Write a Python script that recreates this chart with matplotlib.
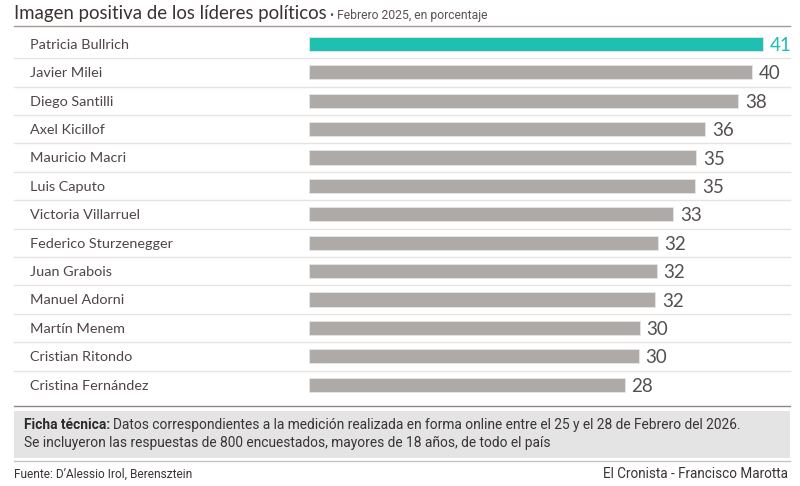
import matplotlib
matplotlib.use('Agg')
import matplotlib.pyplot as plt
from matplotlib.patches import Rectangle

names = ['Patricia Bullrich', 'Javier Milei', 'Diego Santilli', 'Axel Kicillof',
         'Mauricio Macri', 'Luis Caputo', 'Victoria Villarruel', 'Federico Sturzenegger',
         'Juan Grabois', 'Manuel Adorni', 'Martín Menem', 'Cristian Ritondo',
         'Cristina Fernández']
values = [41, 40, 38.8, 35.8, 35, 34.9, 32.9, 31.5, 31.4, 31.3, 29.9, 29.8, 28.5]
labels = ['41', '40', '38', '36', '35', '35', '33', '32', '32', '32', '30', '30', '28']

TEAL = '#1fbfb1'
GRAY = '#aeaaa7'
TXT = '#4f4545'
MAIN = ['Lato', 'DejaVu Sans']
NARROW = ['Roboto', 'DejaVu Sans']

W, H = 800, 486
fig = plt.figure(figsize=(8, 4.86), dpi=100)
fig.canvas.draw()
r = fig.canvas.get_renderer()


def fx(px):
    return px / W


def fy(py):
    return 1 - py / H


def fit(t, width):
    # shrink/grow a text so it spans the same width as in the reference
    w = t.get_window_extent(r).width
    t.set_fontsize(t.get_fontsize() * width / w)
    return t


# axes over the whole figure, row i sits at 44 + 28.4*i px from top
ax = fig.add_axes([0, 0, 1, 1])
scale = 11.06
x0 = 309.3
ax.set_xlim(-x0 / scale, (W - x0) / scale)
step = 28.4
ax.set_ylim((H - 44) / step, -44 / step)
ax.axis('off')

colors = [TEAL] + [GRAY] * (len(values) - 1)
ys = list(range(len(values)))
ax.barh(ys, values, height=0.5, color=colors, edgecolor='#e8e6e4', linewidth=0.6)

for i, (n, v, lab) in enumerate(zip(names, values, labels)):
    ax.text(fx(30), i + 0.03, n, transform=ax.get_yaxis_transform(), ha='left', va='center',
            fontsize=10.4, color=TXT, family=MAIN)
    ax.text(v + 0.6, i + 0.05, lab, ha='left', va='center', fontsize=13.5,
            color=TEAL if i == 0 else '#555050', family=MAIN)

# row separators
xa, xb = fx(14), fx(790)
for i in range(len(values) - 1):
    ax.plot([xa, xb], [i + 0.5, i + 0.5], transform=ax.get_yaxis_transform(),
            color='#e6e3e1', lw=1)

# title line and bottom lines
fig.add_artist(plt.Line2D([xa, xb], [fy(25.7), fy(25.7)], color='#a39a97', lw=1))
fig.add_artist(plt.Line2D([xa, xb], [fy(406), fy(406)], color='#8f8583', lw=1))
fig.add_artist(plt.Line2D([xa, xb], [fy(461), fy(461)], color='#c9c4c2', lw=1))

fig.add_artist(Rectangle((fx(14), fy(458)), fx(790) - fx(14), (458 - 411) / H,
                         facecolor='#e4e4e4', edgecolor='none'))

t = fig.text(fx(14), fy(14), 'Imagen positiva de los líderes políticos', ha='left', va='center',
             fontsize=13, color='#3a3232', family=MAIN)
fit(t, 313)
bb = t.get_window_extent(r)
s = fig.text((bb.x1 + 3) / W, fy(15), '• Febrero 2025, en porcentaje', ha='left', va='center',
             fontsize=9, color='#5a5252', family=NARROW)
fit(s, 158)

b = fig.text(fx(24), fy(425), 'Ficha técnica:', ha='left', va='center', fontsize=10,
             color='#2f2a2a', weight='bold', family=NARROW)
l1 = fig.text(fx(24), fy(425),
              'Datos correspondientes a la medición realizada en forma online entre el 25 y el 28 de Febrero del 2026.',
              ha='left', va='center', fontsize=10, color='#3a3434', family=NARROW)
wb = b.get_window_extent(r).width
wl = l1.get_window_extent(r).width
k = 721 / (wb + 3 + wl)
b.set_fontsize(10 * k)
l1.set_fontsize(10 * k)
l1.set_x((24 + b.get_window_extent(r).width + 3) / W)
fig.text(fx(24), fy(443),
         'Se incluyeron las respuestas de 800 encuestados, mayores de 18 años, de todo el país',
         ha='left', va='center', fontsize=10 * k, color='#3a3434', family=NARROW)

f1 = fig.text(fx(14), fy(474), 'Fuente: D’Alessio Irol, Berensztein', ha='left', va='center',
              fontsize=8.6, color='#3a3434', family=NARROW)
fit(f1, 178)
f2 = fig.text(fx(788), fy(474), 'El Cronista - Francisco Marotta', ha='right', va='center',
              fontsize=8.6, color='#3a3434', family=NARROW)
fit(f2, 185)

fig.savefig('out.png', dpi=100, facecolor='white')
